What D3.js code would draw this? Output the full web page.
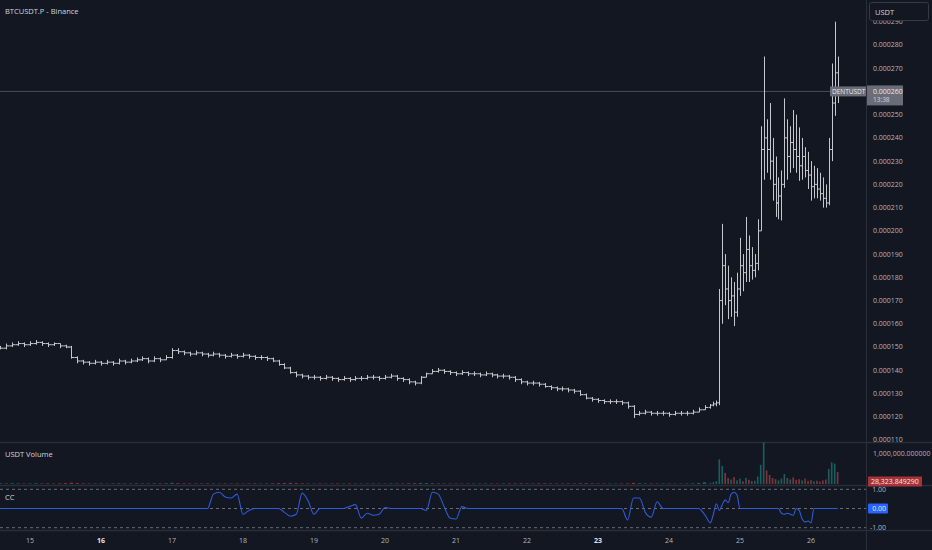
<!DOCTYPE html>
<html>
<head>
<meta charset="utf-8">
<script src="https://cdn.jsdelivr.net/npm/d3@7/dist/d3.min.js"></script>
<style>
  html, body { margin: 0; padding: 0; background: #131722; }
  svg { display: block; }
  text { font-family: "Open Sans", "Noto Sans", sans-serif; }
</style>
</head>
<body>
<svg id="chart" width="932" height="550"></svg>
<script>
// ---------- DATA (prices in units of 1e-6 USDT) ----------
const symbolTitle = "BTCUSDT.P - Binance";

// Segment A: 2-hour bars, starting on the 14th at 14:00
const segAStart = 14 + 14 / 24;
const segAHours = 2;
const closeA = [
  149.5,150.5,151,151.5,151,151.5,152,151.5,151,151.5,150.5,150,
  145.5,144,143.5,143,143.5,143,143.5,143,144,143.5,144,144.5,
  145,144,145,144.5,145.5,148.5,148,147.5,147,147.5,147,146.5,
  147,146.5,146,146.5,146,146.5,146,145.5,145.5,145,144,142.5,
  141,139,138,137.5,137,137,136.5,137,136.5,136,136.5,136,
  136.5,136.5,137,137,136.5,137,137.5,136.5,136,135,134.5,137,
  138.5,139.5,140,139.5,139,138.5,139,138.5,138.5,138,138.5,138,
  137.5,137.5,137,136,135,134.5,134.5,134,133,132.5,132,132,
  131.5,131,129.5,128,127.5,127,126.5,126.5,126.5,126,124.5,121,
  121.5,122,121.5,121.5,121.5,121,121.5,121.5,121.5,122,123,124
];
const highA = [
  150.5,151.5,152,152.5,152,152.5,153,152.5,152,152,151.5,151,
  150.5,146,144.5,144,144.5,144,144.5,144,145,144.5,145,145.5,
  146,145.5,146,145.5,146.5,149.5,149.5,148.5,148,148.5,148,147.5,
  148,147.5,147,147.5,147,147.5,147,146.5,146.5,146,145.5,144.5,
  143,141.5,139.5,138.5,138,138,137.5,138,137.5,137,137.5,137,
  137.5,137.5,138,138,137.5,138,138.5,138,137,136.5,135.5,137.5,
  139,140.5,141,140.5,140,139.5,140,139.5,139.5,139,139.5,139,
  138.5,138.5,138,137.5,136.5,135.5,135.5,135,134.5,133.5,133,133,
  132.5,132,131.5,130,128.5,128,127.5,127.5,127.5,127,126.5,125,
  122.5,123,122.5,122.5,122.5,122,122.5,122.5,122.5,123,124,125
];
const lowA = [
  149,149,150,150.5,150,150.5,151,150.5,150,150.5,149.5,149.5,
  145,143,142.5,142,142.5,142,142.5,142,142.5,142.5,143,143.5,
  144,143,143.5,143.5,144.5,145,147,146.5,146,146.5,146,145.5,
  146,145.5,145,145.5,145,145.5,145,144.5,144.5,144,143.5,142,
  140.5,138.5,137,136.5,136,136,135.5,136,135.5,135,135.5,135,
  135.5,135.5,136,136,135.5,136,136.5,135.5,135,134,133.5,134,
  137,138.5,139,138.5,138,137.5,138,137.5,137.5,137,137.5,137,
  136.5,136.5,136,135,134,133.5,133.5,133,132.5,131.5,131,131,
  130.5,130,129,127.5,126.5,126,125.5,125.5,125.5,125,123.5,119.5,
  120.5,121,120.5,120.5,120.5,120,120.5,120.5,120.5,121,122,123
];
const volumeKA = [
  22,18,25,20,15,19,24,17,21,16,20,30,
  45,28,20,18,16,19,15,17,22,18,16,20,
  18,17,21,19,24,40,26,20,18,17,16,19,
  18,15,17,16,18,15,17,20,16,18,24,30,
  35,38,28,22,18,16,17,15,16,18,15,17,
  16,15,17,18,16,15,19,17,18,24,26,35,
  30,26,22,18,17,16,15,18,16,15,17,16,
  15,18,17,20,22,19,18,20,22,18,17,16,
  18,17,24,26,20,18,17,16,15,17,22,38,
  26,20,18,16,17,18,16,15,17,20,35,60
];
const ccA = [
  0,0,0,0,0,0,0,0,0,0,0,0,
  0,0,0,0,0,0,0,0,0,0,0,0,
  0,0,0,0,0,0,0,0,0,0,0,0,
  0.75,0.85,0.6,0.55,0.75,-0.3,-0.1,0,0,0,0,0,
  -0.2,-0.4,-0.3,0.8,0.4,-0.3,0,0,0,0,0,0.1,
  0.2,-0.5,-0.25,-0.35,-0.3,0.05,0,0,0,0,0,0,
  -0.1,0.85,0.75,0.1,-0.5,-0.55,0.1,0,0,0,0,0,
  0,0,0,0,0,0,0,0,0,0,0,0,
  0,0,0,0,0,0,0,0,0,0,-0.6,0.55,
  0.55,-0.2,-0.45,0.35,0,0,0,0,0,0,0,-0.3
];

// Segment B: 1-hour bars, starting on the 24th at 14:00 (the breakout)
const segBStart = 24 + 14 / 24;
const segBHours = 1;
const closeB = [
  125,125.5,126,170,185,175,170,172,165,175,185,182,
  192,185,183,186,200,235,240,235,230,220,212,215,
  220,240,232,238,235,232,228,232,226,224,219,220,
  218,216,214,212,235,255,268,260
];
const highB = [
  125.5,126.5,127,175,203,190,185,180,178,182,197,190,
  206,198,193,190,205,245,275,248,255,240,232,223,
  226,257,248,245,252,250,244.5,240,236,234,230,228,
  227,225,223,220,240,272,290,275
];
const lowB = [
  123.5,124.5,124.5,125,160,168,162,163,159,163,172,174,
  178,178,179,180,183,200,222,225,222,213,206,205,
  204.5,218.5,222,225,227,225,221.5,222,223,218,213,214,
  214,213,210,210,211,230,249.5,255
];
const volumeKB = [
  40,60,90,820,600,370,200,150,230,120,180,90,
  200,140,100,110,250,640,1380,450,300,200,160,120,
  180,330,200,150,220,140,160,120,180,100,130,90,
  110,80,120,150,500,720,680,400
];
const ccB = [
  -0.75,-0.3,0.25,-0.1,0.2,0.45,0.3,0.75,0.85,0.7,0,0,
  0,0,0,0,0,0,0,0,0,0,0,0,
  -0.25,-0.3,-0.25,-0.3,-0.35,0,-0.1,-0.55,-0.7,-0.65,-0.75,0,
  0,0,0,0,0,0,0,0
];

const dayTicks = [15,16,17,18,19,20,21,22,23,24,25,26];
const boldDays = [16,23];
const priceTicksMicro = [110,120,130,140,150,160,170,180,190,200,210,220,230,240,250,260,270,280,290];
const volumeTicks = [1000000];
const ccTicks = [1, 0, -1];
const lastPriceMicro = 260;
const lastPriceName = "DENTUSDT";
const lastPriceTime = "13:38";
const lastVolume = 28323.849290;
const lastCC = 0;

// ---------- LAYOUT ----------
const W = 932, H = 550;
const plotRight = 866;
const svg = d3.select("#chart");
const bg = "#131722", sepColor = "#2a2e39", textColor = "#b2b5be";

svg.append("rect").attr("width", W).attr("height", H).attr("fill", bg);

function buildBars(start, hours, c, h, l, vk, cc) {
  return c.map((cv, i) => ({ t: start + i * hours / 24, hours: hours, c: cv, h: h[i], l: l[i], v: vk[i] * 1000, cc: cc[i] }));
}
const bars = buildBars(segAStart, segAHours, closeA, highA, lowA, volumeKA, ccA)
  .concat(buildBars(segBStart, segBHours, closeB, highB, lowB, volumeKB, ccB));
bars.forEach((b, i) => { b.o = i === 0 ? b.c : bars[i - 1].c; });

const x = d3.scaleLinear().domain([15, 26]).range([30, 811]);
const pxPerHour = (x(16) - x(15)) / 24;
const yP = d3.scaleLinear().domain([110, 290]).range([440, 21.7]);
const yV = d3.scaleLinear().domain([0, 1000000]).range([484, 454]);
const yC = d3.scaleLinear().domain([-1, 1]).range([527.7, 489.3]);

// pane separators
[442.5, 485.5, 530.5].forEach(yy => {
  svg.append("line").attr("x1", 0).attr("x2", W).attr("y1", yy).attr("y2", yy).attr("stroke", sepColor).attr("stroke-width", 1.5);
});
svg.append("line").attr("x1", plotRight + 0.5).attr("x2", plotRight + 0.5).attr("y1", 0).attr("y2", H).attr("stroke", sepColor).attr("stroke-width", 1);

// ---------- PRICE PANE ----------
svg.append("line").attr("x1", 0).attr("x2", plotRight).attr("y1", yP(lastPriceMicro)).attr("y2", yP(lastPriceMicro))
  .attr("stroke", "#4a4d58").attr("stroke-width", 1);

const gBars = svg.append("g").attr("stroke", "#c5c7cf").attr("stroke-width", 1);
bars.forEach(b => {
  const cx = Math.round(x(b.t)) + 0.5;
  const tick = b.hours * pxPerHour / 2;
  gBars.append("line").attr("x1", cx).attr("x2", cx).attr("y1", yP(b.h)).attr("y2", yP(b.l));
  gBars.append("line").attr("x1", cx - tick).attr("x2", cx).attr("y1", yP(b.o)).attr("y2", yP(b.o));
  gBars.append("line").attr("x1", cx).attr("x2", cx + tick).attr("y1", yP(b.c)).attr("y2", yP(b.c));
});

svg.append("text").attr("x", 5).attr("y", 14).attr("fill", "#d1d4dc").attr("font-size", 7.5).text(symbolTitle);

const gPA = svg.append("g");
priceTicksMicro.forEach(p => {
  gPA.append("text").attr("x", 873).attr("y", yP(p)).attr("dy", "0.35em")
    .attr("fill", textColor).attr("font-size", 7).text((p / 1e6).toFixed(6));
});

// USDT box
svg.append("rect").attr("x", 869.5).attr("y", 2.5).attr("width", 59).attr("height", 18).attr("rx", 2)
  .attr("fill", "#131722").attr("stroke", "#363a45");
svg.append("text").attr("x", 875).attr("y", 14.5).attr("fill", "#d1d4dc").attr("font-size", 7.5).text("USDT");

// last price labels
const lpY = yP(lastPriceMicro);
svg.append("rect").attr("x", 830).attr("y", lpY - 5).attr("width", 36).attr("height", 10).attr("fill", "#6a6d78");
svg.append("text").attr("x", 832).attr("y", lpY).attr("dy", "0.35em").attr("fill", "#e8e9ee").attr("font-size", 6.5).text(lastPriceName);
svg.append("rect").attr("x", 867).attr("y", lpY - 6).attr("width", 36).attr("height", 20).attr("fill", "#6a6d78");
svg.append("text").attr("x", 873).attr("y", lpY).attr("dy", "0.35em").attr("fill", "#e8e9ee").attr("font-size", 7).text((lastPriceMicro / 1e6).toFixed(6));
svg.append("text").attr("x", 873).attr("y", lpY + 8.5).attr("dy", "0.35em").attr("fill", "#d1d4dc").attr("font-size", 6.5).text(lastPriceTime);

// ---------- VOLUME PANE ----------
svg.append("text").attr("x", 5).attr("y", 457).attr("fill", "#d1d4dc").attr("font-size", 7.5).text("USDT Volume");
const gVol = svg.append("g");
bars.forEach(b => {
  const cx = x(b.t);
  const w = Math.max(1.2, b.hours * pxPerHour * 0.55);
  const up = b.c >= b.o;
  gVol.append("rect").attr("x", cx - w / 2).attr("width", w)
    .attr("y", yV(b.v)).attr("height", Math.max(0, yV(0) - yV(b.v)))
    .attr("fill", up ? "rgba(38,166,154,0.5)" : "rgba(239,83,80,0.5)");
});
volumeTicks.forEach(v => {
  svg.append("text").attr("x", 873).attr("y", yV(v)).attr("dy", "0.35em").attr("fill", textColor).attr("font-size", 7)
    .text(d3.format(",.6f")(v));
});
svg.append("rect").attr("x", 868).attr("y", 476.5).attr("width", 54).attr("height", 10).attr("fill", "#a8323a");
svg.append("text").attr("x", 871).attr("y", 481.5).attr("dy", "0.35em").attr("fill", "#e8e9ee").attr("font-size", 7)
  .text(d3.format(",.6f")(lastVolume));

// ---------- CC PANE ----------
svg.append("text").attr("x", 5).attr("y", 500).attr("fill", "#d1d4dc").attr("font-size", 7.5).text("CC");
ccTicks.forEach(v => {
  svg.append("line").attr("x1", 0).attr("x2", plotRight).attr("y1", yC(v)).attr("y2", yC(v))
    .attr("stroke", "#6a6d78").attr("stroke-width", 1).attr("stroke-dasharray", "3,3");
});
const ccLine = d3.line().x(b => x(b.t)).y(b => yC(b.cc)).curve(d3.curveMonotoneX);
svg.append("path").datum(bars).attr("d", ccLine).attr("fill", "none").attr("stroke", "#2f5bd8").attr("stroke-width", 1.1);

ccTicks.filter(v => v !== lastCC).forEach(v => {
  svg.append("text").attr("x", 886).attr("y", yC(v)).attr("dy", "0.35em").attr("text-anchor", "end")
    .attr("fill", textColor).attr("font-size", 7).text(d3.format(".2f")(v).replace("\u2212", "-"));
});
svg.append("rect").attr("x", 868).attr("y", yC(lastCC) - 5).attr("width", 20).attr("height", 10).attr("rx", 1).attr("fill", "#2962ff");
svg.append("text").attr("x", 886).attr("y", yC(lastCC)).attr("dy", "0.35em").attr("text-anchor", "end")
  .attr("fill", "#e8e9ee").attr("font-size", 7).text(d3.format(".2f")(lastCC));

// ---------- X AXIS ----------
dayTicks.forEach(d => {
  const bold = boldDays.includes(d);
  svg.append("text").attr("x", x(d)).attr("y", 541).attr("dy", "0.35em").attr("text-anchor", "middle")
    .attr("fill", bold ? "#e0e3eb" : textColor).attr("font-weight", bold ? 700 : 400).attr("font-size", 7)
    .text(d);
});
</script>
</body>
</html>
